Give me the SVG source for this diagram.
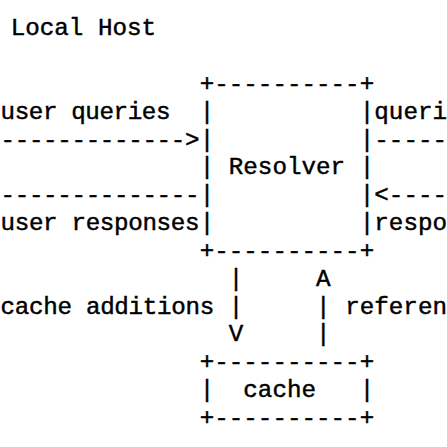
<svg xmlns="http://www.w3.org/2000/svg" width="447" height="447" viewBox="0 0 447 447">
<style>
text{font-family:"Liberation Mono","Courier New",monospace;font-size:24.24px;fill:#000;stroke:#000;stroke-width:0.45px;white-space:pre}
</style>
<rect width="447" height="447" fill="#fff"/>
<g id="local-host"><text x="10.64" y="35.2">Local Host</text></g>
<g id="resolver">
<text x="199.7" y="90.9">+----------+</text>
<text x="199.7" y="118.7">|          |</text>
<text x="199.7" y="146.5">|          |</text>
<text x="199.7" y="174.4" xml:space="preserve">| Resolver |</text>
<text x="199.7" y="202.2">|          |</text>
<text x="199.7" y="230.0">|          |</text>
<text x="199.7" y="257.9">+----------+</text>
</g>
<g id="cache">
<text x="199.7" y="369.2">+----------+</text>
<text x="199.7" y="397.0" xml:space="preserve">|  cache   |</text>
<text x="199.7" y="424.8">+----------+</text>
</g>
<g id="connectors">
<text x="0.5" y="118.7" textLength="170" lengthAdjust="spacing">user queries</text>
<text x="0.5" y="146.5" textLength="199" lengthAdjust="spacing">-------------&gt;</text>
<text x="0.5" y="202.2" textLength="199" lengthAdjust="spacing">--------------</text>
<text x="0.5" y="230.0" textLength="199" lengthAdjust="spacing">user responses</text>
<text x="374.3" y="118.7">queri</text>
<text x="374.3" y="146.5">-----</text>
<text x="374.3" y="202.2">&lt;----</text>
<text x="374.3" y="230.0">respo</text>
<text x="228.8" y="285.7">|</text>
<text x="316.1" y="285.7">A</text>
<text x="0.5" y="313.5" textLength="213.8" lengthAdjust="spacing">cache additions</text>
<text x="228.8" y="313.5">|</text>
<text x="316.1" y="313.5">|</text>
<text x="345.2" y="313.5">referen</text>
<text x="228.8" y="341.3">V</text>
<text x="316.1" y="341.3">|</text>
</g>
</svg>
